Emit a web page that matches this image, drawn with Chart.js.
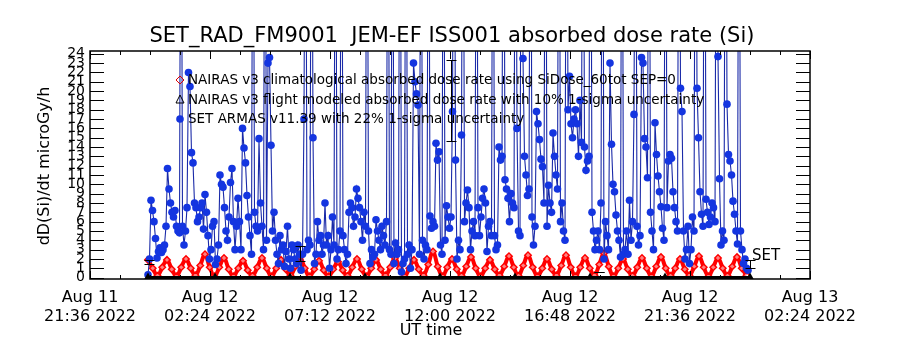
<!DOCTYPE html>
<html>
<head>
<meta charset="utf-8">
<script src="https://cdn.jsdelivr.net/npm/chart.js@4/dist/chart.umd.min.js"></script>
<style>
  html, body { margin: 0; padding: 0; background: #fff; }
</style>
</head>
<body>
<canvas id="doseChart" width="900" height="350"></canvas>
<script>
// time axis is in hours after Aug 11 21:36 UT
const tickHours = [0, 4.8, 9.6, 14.4, 19.2, 24.0, 28.8];
const tickDates = ["Aug 11", "Aug 12", "Aug 12", "Aug 12", "Aug 12", "Aug 12", "Aug 13"];
const tickTimes = ["21:36 2022", "02:24 2022", "07:12 2022", "12:00 2022", "16:48 2022", "21:36 2022", "02:24 2022"];
const yTicks = [0, 1, 2, 3, 4, 5, 6, 7, 8, 9, 10, 11, 12, 13, 14, 15, 16, 17, 18, 19, 20, 21, 22, 23, 24];

const legendLabels = [
  "NAIRAS v3 climatological absorbed dose rate using SiDose_60tot SEP=0",
  "NAIRAS v3 flight modeled absorbed dose rate with 10% 1-sigma uncertainty",
  "SET ARMAS v11.39 with 22% 1-sigma uncertainty"
];

// NAIRAS climatological, sampled every 0.19 h
const climStart = 2.32;
const climStep = 0.19;
const climValues = [
  1.9, 1.0,
  0.2, 1.1, 1.9, 0.9,   0.15, 1.1, 2.0, 1.0,  0.25, 1.3, 2.5, 1.1,  0.15, 1.1, 2.1, 0.9,
  0.15, 1.0, 1.8, 0.8,  0.2, 1.1, 2.1, 1.0,   0.15, 1.0, 1.9, 0.9,  0.25, 1.2, 2.2, 1.0,
  0.15, 0.9, 1.8, 0.8,  0.15, 0.9, 1.7, 0.8,  0.2, 1.1, 2.0, 0.9,   0.15, 1.0, 1.9, 0.9,
  0.25, 1.1, 2.1, 1.0,  0.15, 1.0, 1.9, 0.9,  0.25, 1.4, 2.8, 1.2,  0.15, 1.1, 2.0, 0.9,
  0.2, 1.2, 2.2, 1.0,   0.15, 1.0, 1.9, 0.9,  0.25, 1.2, 2.3, 1.1,  0.2, 1.3, 2.4, 1.1,
  0.15, 1.0, 2.0, 0.9,  0.25, 1.3, 2.4, 1.1,  0.15, 1.1, 2.1, 1.0,  0.25, 1.4, 2.6, 1.2,
  0.15, 1.0, 2.0, 0.9,  0.2, 1.1, 2.1, 1.0,   0.15, 1.2, 2.2, 1.0,  0.2, 1.0, 2.0, 0.9,
  0.25, 1.2, 2.3, 1.1,  0.15, 1.1, 2.1, 1.0,  0.2, 1.2, 2.2, 1.0,
  0.25
];

// NAIRAS flight modeled
const flightHours = [2.32, 5.0, 8.0, 11.0, 14.0, 17.0, 20.0, 23.0, 26.4];
const flightValues = [0.0, 0.0, 0.0, 0.0, 0.0, 0.0, 0.0, 0.0, 0.0];

// error bars drawn in black
const errHours = [2.36, 8.4, 14.44, 20.36, 26.4];
const errValues = [1.7, 2.6, 19.0, 0.6, 1.45];
const errSigma = [0.2, 0.8, 4.3, 0.0, 0.45];

// SET ARMAS, sampled every 0.06 h
const armasStart = 2.32;
const armasStep = 0.06;
const armasValues = [
  0.3, 2.0, 8.3, 7.2, 6.0, 4.2, 2.1, 2.8, 3.2, 2.7, 3.0, 3.5, 5.5, 11.7, 9.5, 8.0, 7.0, 6.5, 7.2, 5.5,
  5.0, 4.8, 60, 5.5, 3.5, 5.0, 7.5, 22.0, 20.5, 13.4, 12.3, 8.0, 7.5, 6.0, 6.5, 7.5, 8.0, 5.2, 8.9, 7.0,
  4.5, 2.0, 3.0, 5.5, 6.0, 1.4, 2.0, 3.5, 11.0, 10.0, 9.7, 7.5, 5.0, 4.0, 6.5, 10.2, 11.7, 6.0, 3.0, 5.5,
  8.5, 6.0, 3.0, 16.0, 13.9, 12.3, 8.8, 6.5, 4.5, 2.5, 60, 7.0, 5.5, 5.0, 14.9, 8.0, 5.5, 3.0, 60, 4.0,
  23.0, 23.6, 14.2, 5.0, 7.0, 4.0, 2.5, 1.5, 4.5, 3.0, 3.5, 1.2, 2.8, 5.5, 2.0, 1.0, 3.5, 3.0, 2.0, 1.5,
  3.5, 2.5, 0.8, 2.5, 17.0, 60, 3.0, 4.0, 3.5, 60, 15.0, 1.5, 2.5, 6.0, 4.0, 4.5, 2.5, 3.5, 8.0, 3.5,
  4.5, 1.0, 3.0, 6.5, 3.5, 60, 2.0, 3.0, 5.0, 60, 4.5, 3.0, 1.5, 2.5, 7.0, 8.0, 7.5, 5.5, 6.5, 9.5,
  8.5, 7.5, 6.0, 4.0, 7.0, 5.5, 60, 5.0, 1.5, 3.0, 2.2, 2.5, 6.2, 5.0, 4.0, 3.0, 5.5, 4.5, 3.5, 6.0,
  60, 3.0, 2.5, 60, 1.5, 3.7, 2.5, 3.0, 60, 0.6, 1.5, 2.0, 60, 2.5, 3.5, 1.0, 3.0, 23.0, 21.0, 19.7,
  18.5, 2.5, 60, 4.0, 2.0, 3.5, 3.0, 60, 6.6, 5.3, 6.0, 5.5, 14.4, 12.6, 13.5, 3.5, 2.5, 60, 4.0, 7.7,
  6.5, 5.3, 6.5, 17.8, 60, 12.6, 2.0, 4.0, 3.0, 15.3, 60, 6.0, 8.0, 9.4, 7.5, 3.0, 5.0, 6.0, 4.5, 60,
  7.5, 4.5, 6.5, 8.5, 9.5, 8.0, 2.8, 5.5, 6.0, 4.5, 60, 4.5, 3.0, 3.5, 14.0, 12.6, 13.0, 60, 10.5, 9.5,
  8.5, 6.0, 9.0, 8.0, 7.5, 60, 16.0, 5.0, 4.5, 60, 23.5, 13.0, 11.0, 8.8, 9.5, 60, 6.5, 3.5, 5.5, 17.8,
  16.5, 14.8, 12.7, 11.9, 8.0, 60, 5.5, 9.9, 8.0, 7.0, 15.5, 13.0, 11.0, 9.5, 60, 6.0, 8.0, 5.0, 4.0, 60,
  18.0, 21.6, 16.5, 15.0, 17.0, 18.0, 16.5, 13.0, 19.0, 14.5, 60, 14.0, 11.5, 12.5, 13.0, 60, 7.0, 5.0, 3.0, 4.0,
  5.0, 3.0, 8.0, 60, 2.0, 6.0, 4.5, 3.0, 23.0, 14.3, 10.0, 9.2, 6.7, 5.0, 4.0, 2.2, 60, 2.5, 3.0, 5.0,
  2.5, 8.3, 4.0, 6.0, 17.5, 60, 5.5, 3.5, 4.5, 23.6, 23.0, 14.9, 14.0, 10.7, 60, 7.0, 5.0, 3.0, 16.6, 13.2,
  10.9, 9.2, 7.6, 5.3, 4.0, 60, 7.5, 12.5, 13.2, 12.8, 9.2, 7.5, 6.0, 5.0, 60, 20.3, 17.8, 5.0, 2.0, 3.0,
  5.5, 1.5, 3.0, 6.5, 5.0, 60, 20.3, 15.0, 9.2, 6.8, 5.5, 60, 8.4, 7.0, 5.7, 6.5, 8.0, 7.5, 6.0, 60,
  23.7, 10.6, 3.5, 5.0, 4.0, 60, 18.6, 13.2, 12.5, 11.0, 8.2, 6.8, 5.0, 3.6, 60, 5.0, 3.0, 1.5, 2.0, 1.0,
  0.8
];

const FONT = "'DejaVu Sans', sans-serif";

// box, inward ticks, titles and legend in the old plot style
const plotDecor = {
  id: "plotDecor",
  afterDatasetsDraw(chart) {
    const ctx = chart.ctx;
    const a = chart.chartArea;
    const x = chart.scales.x;
    const y = chart.scales.y;
    ctx.save();

    // error bars
    ctx.strokeStyle = "#000";
    ctx.lineWidth = 1;
    ctx.beginPath();
    errHours.forEach((h, i) => {
      const px = Math.round(x.getPixelForValue(h)) + 0.5;
      const top = Math.round(y.getPixelForValue(errValues[i] + errSigma[i])) + 0.5;
      const bot = Math.round(y.getPixelForValue(errValues[i] - errSigma[i])) + 0.5;
      ctx.moveTo(px, top); ctx.lineTo(px, bot);
      ctx.moveTo(px - 5, top); ctx.lineTo(px + 5, top);
      ctx.moveTo(px - 5, bot); ctx.lineTo(px + 5, bot);
    });
    ctx.stroke();

    // frame
    ctx.lineWidth = 1.5;
    ctx.strokeRect(a.left, a.top, a.right - a.left, a.bottom - a.top);

    ctx.lineWidth = 1;
    ctx.beginPath();
    yTicks.forEach(v => {
      const py = Math.round(y.getPixelForValue(v)) + 0.5;
      ctx.moveTo(a.left, py); ctx.lineTo(a.left + 14, py);
      ctx.moveTo(a.right, py); ctx.lineTo(a.right - 14, py);
    });
    tickHours.forEach((h, i) => {
      const px = Math.round(x.getPixelForValue(h)) + 0.5;
      ctx.moveTo(px, a.top); ctx.lineTo(px, a.top + 8);
      ctx.moveTo(px, a.bottom); ctx.lineTo(px, a.bottom - 8);
      if (i < tickHours.length - 1) {
        for (let k = 1; k < 4; k++) {
          const mx = Math.round(x.getPixelForValue(h + k * 1.2)) + 0.5;
          ctx.moveTo(mx, a.top); ctx.lineTo(mx, a.top + 4);
          ctx.moveTo(mx, a.bottom); ctx.lineTo(mx, a.bottom - 4);
        }
      }
    });
    ctx.stroke();

    // texts
    ctx.fillStyle = "#000";
    ctx.textBaseline = "middle";
    ctx.textAlign = "center";
    ctx.font = "21px " + FONT;
    ctx.fillText("SET_RAD_FM9001  JEM-EF ISS001 absorbed dose rate (Si)", 452, 37);
    ctx.font = "16px " + FONT;
    ctx.fillText("UT time", 431, 331);
    ctx.save();
    ctx.translate(45, 166);
    ctx.rotate(-Math.PI / 2);
    ctx.fillText("dD(Si)/dt microGy/h", 0, 0);
    ctx.restore();

    // legend
    ctx.textAlign = "left";
    ctx.font = "13.5px " + FONT;
    const ly = [80, 100, 119];
    legendLabels.forEach((t, i) => ctx.fillText(t, 188, ly[i]));
    ctx.strokeStyle = "#e00000";
    ctx.beginPath();
    ctx.moveTo(180, ly[0] - 4); ctx.lineTo(184, ly[0]); ctx.lineTo(180, ly[0] + 4); ctx.lineTo(176, ly[0]); ctx.closePath();
    ctx.stroke();
    ctx.strokeStyle = "#000";
    ctx.beginPath();
    ctx.moveTo(180, ly[1] - 5); ctx.lineTo(184, ly[1] + 3); ctx.lineTo(176, ly[1] + 3); ctx.closePath();
    ctx.stroke();
    ctx.fillStyle = "#1433dd";
    ctx.beginPath();
    ctx.arc(180, ly[2], 3.8, 0, Math.PI * 2);
    ctx.fill();

    ctx.fillStyle = "#000";
    ctx.font = "15px " + FONT;
    ctx.fillText("SET", 752, 256);
    ctx.restore();
  }
};

new Chart(document.getElementById("doseChart"), {
  type: "line",
  data: {
    datasets: [
      {
        label: legendLabels[1],
        data: flightHours.map((h, i) => ({ x: h, y: flightValues[i] })),
        borderColor: "#000",
        borderWidth: 3,
        pointStyle: "triangle",
        pointRadius: 2,
        pointBorderColor: "#000",
        pointBackgroundColor: "#000",
        order: 0
      },
      {
        label: legendLabels[2],
        data: armasValues.map((v, i) => ({ x: armasStart + i * armasStep, y: v })),
        borderColor: "#1a2aa8",
        borderWidth: 1.1,
        pointStyle: "circle",
        pointRadius: 3.8,
        pointBorderWidth: 0,
        pointBackgroundColor: "#1435e0",
        order: 1
      },
      {
        label: legendLabels[0],
        data: climValues.map((v, i) => ({ x: climStart + i * climStep, y: v })),
        borderColor: "#ff0000",
        borderWidth: 4,
        tension: 0.4,
        pointStyle: "rectRot",
        pointRadius: 3.2,
        pointBorderWidth: 1.5,
        pointBorderColor: "#ff0000",
        pointBackgroundColor: "rgba(255,255,255,0.5)",
        order: 2
      }
    ]
  },
  options: {
    responsive: false,
    animation: false,
    layout: { padding: { top: 51, right: 90, left: 0, bottom: 0 } },
    plugins: { legend: { display: false }, tooltip: { enabled: false } },
    scales: {
      x: {
        type: "linear",
        min: 0,
        max: 28.8,
        afterFit: s => { s.height = 71; },
        afterBuildTicks: s => { s.ticks = tickHours.map(v => ({ value: v })); },
        grid: { display: false, drawTicks: false },
        border: { display: false },
        ticks: {
          autoSkip: false,
          maxRotation: 0,
          padding: 9,
          color: "#000",
          font: { family: FONT, size: 16, lineHeight: 1.2 },
          callback: v => {
            const i = tickHours.indexOf(v);
            return i < 0 ? "" : [tickDates[i], tickTimes[i]];
          }
        }
      },
      y: {
        type: "linear",
        min: -0.15,
        max: 24.3,
        afterFit: s => { s.width = 90; },
        afterBuildTicks: s => { s.ticks = yTicks.map(v => ({ value: v })); },
        grid: { display: false, drawTicks: false },
        border: { display: false },
        ticks: {
          autoSkip: false,
          padding: 5,
          color: "#000",
          font: { family: FONT, size: 14 }
        }
      }
    }
  },
  plugins: [plotDecor]
});
</script>
</body>
</html>
